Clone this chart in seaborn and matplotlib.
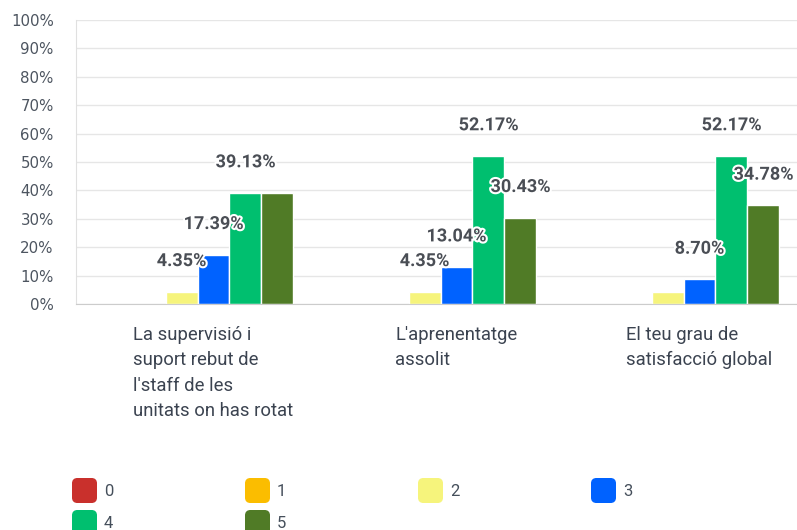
import numpy as np
import pandas as pd
import seaborn as sns
import matplotlib
import matplotlib.pyplot as plt
import matplotlib.patheffects as pe
from matplotlib.lines import Line2D
from matplotlib.patches import FancyBboxPatch
from matplotlib.transforms import ScaledTranslation

questions = [
    "La supervisió i\nsuport rebut de\nl'staff de les\nunitats on has rotat",
    "L'aprenentatge\nassolit",
    "El teu grau de\nsatisfacció global",
]
ratings = ["0", "1", "2", "3", "4", "5"]
pct_q1 = [0, 0, 4.35, 17.39, 39.13, 39.13]
pct_q2 = [0, 0, 4.35, 13.04, 52.17, 30.43]
pct_q3 = [0, 0, 4.35, 8.70, 52.17, 34.78]
colors = ["#c9302c", "#fbbd00", "#f6f47c", "#0062ff", "#00bf6f", "#507b26"]
# labels the survey tool hides because they overlap
hidden_labels = [(0, "5"), (2, "2")]

rows = []
for qi, vals in enumerate([pct_q1, pct_q2, pct_q3]):
    for r, v in zip(ratings, vals):
        rows.append({"q": qi, "rating": r, "pct": v})
df = pd.DataFrame(rows)

sns.set_style("white")
plt.rcParams['font.family'] = ['DejaVu Sans']

fig = plt.figure(figsize=(7.97, 5.30), dpi=100)
ax = fig.add_axes([76/797, 226/530, 729/797, 284/530])

sns.barplot(data=df, x="q", y="pct", hue="rating", hue_order=ratings,
            palette=colors, saturation=1, width=0.79, edgecolor="white",
            linewidth=1, legend=False, ax=ax)

ax.set_ylim(0, 100)
ax.set_xlim(-0.5, 2.5)
ax.set_yticks(np.arange(0, 101, 10))
ax.set_yticklabels([f"{t}%" for t in range(0, 101, 10)])
ax.yaxis.grid(True, color="#e6e6e6", linewidth=1)
ax.set_axisbelow(True)
for s in ["top", "right"]:
    ax.spines[s].set_visible(False)
ax.spines["left"].set_color("#e0e0e0")
ax.spines["bottom"].set_color("#cccccc")
ax.tick_params(axis="y", length=0, pad=16, labelsize=10.8, labelcolor="#4d5560")
ax.tick_params(axis="x", length=0)
ax.set_xticks([])
ax.set_xlabel("")
ax.set_ylabel("")

# value labels
for r, cont in zip(ratings, ax.containers):
    for qi, bar in enumerate(cont):
        v = bar.get_height()
        if v == 0 or (qi, r) in hidden_labels:
            continue
        ax.annotate(f"{v:.2f}%", (bar.get_x() + bar.get_width()/2, v),
                    xytext=(0, 22), textcoords="offset points",
                    ha="center", va="center", fontsize=13, fontweight="bold",
                    family=["Roboto", "DejaVu Sans"], color="#4a4e55",
                    path_effects=[pe.withStroke(linewidth=3, foreground="white")])

# category labels
offset = ScaledTranslation(16/100, -22/100, fig.dpi_scale_trans)
for qi, q in enumerate(questions):
    ax.text(qi, 0, q, transform=ax.get_xaxis_transform() + offset,
            ha="center", va="top", multialignment="left", fontsize=13.3,
            family=["Roboto", "DejaVu Sans"], color="#3b4350",
            linespacing=1.52)

# legend with rounded squares
rpath = FancyBboxPatch((-0.5, -0.5), 1, 1,
                       boxstyle="round,pad=0,rounding_size=0.2").get_path()
handles = [Line2D([], [], linestyle="none", marker=rpath, markersize=17,
                  markerfacecolor=c, markeredgecolor=c) for c in colors]
order = [0, 4, 1, 5, 2, 3]
leg = fig.legend([handles[i] for i in order], [ratings[i] for i in order],
                 ncol=4, loc="upper left", bbox_to_anchor=(72/797, 0.0875),
                 frameon=False, borderpad=0, borderaxespad=0,
                 handlelength=1.4, handletextpad=0.5, columnspacing=7.93,
                 labelspacing=1.02,
                 prop={"family": ["Roboto", "DejaVu Sans"], "size": 12})
for t in leg.get_texts():
    t.set_color("#454f5b")

fig.savefig("out.png", dpi=100)
